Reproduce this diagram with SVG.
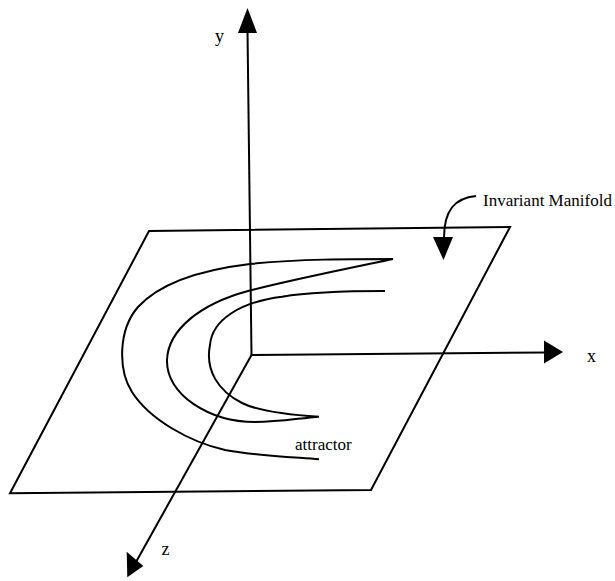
<svg xmlns="http://www.w3.org/2000/svg" width="615" height="581" viewBox="0 0 615 581">
  <style>
    .ln { fill: none; stroke: #000; stroke-width: 2; stroke-linejoin: miter; stroke-linecap: butt; }
    .ah { fill: #000; stroke: none; }
    .lbl { font-family: "Liberation Serif", "Times New Roman", serif; font-size: 18px; fill: #000; }
    .lbl17 { font-family: "Liberation Serif", "Times New Roman", serif; font-size: 17px; fill: #000; }
  </style>
  <rect width="615" height="581" fill="#fff"/>
  <g id="plane">
    <polygon class="ln" points="149,231 510,227 371,490 10,493.3"/>
  </g>
  <g id="attractor">
    <path class="ln" d="M319,459.3 C290,457 250,455 225,450 C190,442 150,420 132,392 C118,370 118,330 138,307 C160,283 200,270 250,264 C300,259 350,259 393,259 C355,267 290,280 248,291 C200,304 168,330 167,360 C166,395 210,422 255,422 C280,422 300,418 319,416.7 C290,415 260,412 242,403 C218,391 205,370 210,345 C212,320 240,302 282,296.7 C310,292 350,291 385,291"/>
  </g>
  <g id="connectors">
    <g id="axis-y">
      <line class="ln" x1="251.5" y1="355" x2="247.5" y2="30"/>
      <polygon class="ah" points="247.5,8 238,33 257,33"/>
    </g>
    <g id="axis-x">
      <line class="ln" x1="251.5" y1="355" x2="546" y2="352.5"/>
      <polygon class="ah" points="563,352 544,340.5 544,363.5"/>
    </g>
    <g id="axis-z">
      <line class="ln" x1="251.5" y1="355" x2="136" y2="562"/>
      <polygon class="ah" points="127.3,577.3 126.7,551.7 143.3,566"/>
    </g>
    <g id="manifold-pointer">
      <path class="ln" d="M476,196 C455,198 444,210 444,238"/>
      <polygon class="ah" points="433,237 453,237 443.5,260"/>
    </g>
  </g>
  <g id="labels">
    <text class="lbl" x="215" y="41.5">y</text>
    <text class="lbl" x="587" y="361.5">x</text>
    <text class="lbl" x="161.5" y="555">z</text>
    <text class="lbl17" x="483" y="205.5">Invariant Manifold</text>
    <text class="lbl17" x="295" y="449.5">attractor</text>
  </g>
</svg>
